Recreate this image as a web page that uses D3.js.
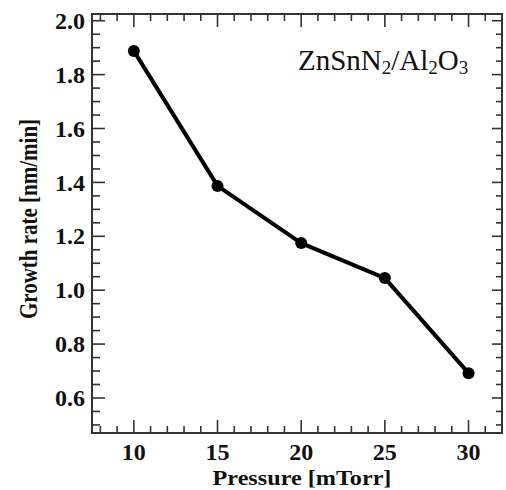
<!DOCTYPE html>
<html>
<head>
<meta charset="utf-8">
<script src="https://cdn.jsdelivr.net/npm/d3@7"></script>
<style>
  body { margin: 0; background: #fff; }
  svg { display: block; }
</style>
</head>
<body>
<svg id="chart" width="506" height="490"></svg>
<script>
var pressure = [10, 15, 20, 25, 30];
var growthRate = [1.888, 1.387, 1.175, 1.045, 0.692];
var xTicks = [10, 15, 20, 25, 30];
var yTicks = [0.6, 0.8, 1.0, 1.2, 1.4, 1.6, 1.8, 2.0];

var svg = d3.select('#chart'),
    margin = {top: 14, right: 4, bottom: 57, left: 92},
    width = +svg.attr('width') - margin.left - margin.right,
    height = +svg.attr('height') - margin.top - margin.bottom,
    g = svg.append('g').attr('transform', 'translate(' + margin.left + ',' + margin.top + ')');

var x = d3.scaleLinear().domain([7.5, 32]).range([0, width]);
var y = d3.scaleLinear().domain([0.47, 2.025]).range([height, 0]);

var axisColor = '#333';
var serif = '"Liberation Serif", "Times New Roman", serif';

var xMinor = d3.range(8, 33, 1).filter(function(d) { return d % 5 !== 0; });
var yMinor = d3.range(0.5, 2.01, 0.05).filter(function(d) {
    return Math.abs(Math.round(d * 5) - d * 5) > 0.01;
});

// inward ticks on all four sides
function drawTicks(sel, vals, len, orient) {
    sel.selectAll(null).data(vals).enter().append('line')
        .attr('stroke', axisColor)
        .attr('stroke-width', 1.6)
        .attr('x1', function(d) { return orient === 'b' || orient === 't' ? x(d) : (orient === 'l' ? 0 : width); })
        .attr('x2', function(d) { return orient === 'b' || orient === 't' ? x(d) : (orient === 'l' ? len : width - len); })
        .attr('y1', function(d) { return orient === 'l' || orient === 'r' ? y(d) : (orient === 'b' ? height : 0); })
        .attr('y2', function(d) { return orient === 'l' || orient === 'r' ? y(d) : (orient === 'b' ? height - len : len); });
}

var ticks = g.append('g');
drawTicks(ticks, xMinor, 7, 'b');
drawTicks(ticks, xMinor, 7, 't');
drawTicks(ticks, xTicks, 13, 'b');
drawTicks(ticks, xTicks, 13, 't');
drawTicks(ticks, yMinor, 8, 'l');
drawTicks(ticks, yMinor, 6, 'r');
drawTicks(ticks, yTicks, 13, 'l');
drawTicks(ticks, yTicks, 10, 'r');

g.append('rect')
    .attr('width', width)
    .attr('height', height)
    .attr('fill', 'none')
    .attr('stroke', axisColor)
    .attr('stroke-width', 2);

// tick labels
g.append('g')
    .attr('font-family', serif)
    .attr('font-weight', 'bold')
    .attr('font-size', 24)
    .attr('text-anchor', 'middle')
    .selectAll('text')
    .data(xTicks)
    .enter().append('text')
    .attr('x', function(d) { return x(d); })
    .attr('y', height + 27)
    .attr('fill', '#111')
    .text(function(d) { return d; });

g.append('g')
    .attr('font-family', serif)
    .attr('font-weight', 'bold')
    .attr('font-size', 24)
    .attr('text-anchor', 'end')
    .selectAll('text')
    .data(yTicks)
    .enter().append('text')
    .attr('x', -7)
    .attr('y', function(d) { return y(d); })
    .attr('dy', '0.34em')
    .attr('fill', '#111')
    .text(function(d) { return d.toFixed(1); });

// axis titles
svg.append('text')
    .attr('transform', 'translate(302,485) scale(1.1,1)')
    .attr('text-anchor', 'middle')
    .attr('font-family', serif)
    .attr('font-weight', 'bold')
    .attr('font-size', 22)
    .attr('fill', '#111')
    .text('Pressure [mTorr]');

svg.append('text')
    .attr('transform', 'translate(37,219) rotate(-90) scale(0.84,1)')
    .attr('text-anchor', 'middle')
    .attr('font-family', serif)
    .attr('font-weight', 'bold')
    .attr('font-size', 25)
    .attr('fill', '#111')
    .text('Growth rate [nm/min]');

// sample label
var label = svg.append('text')
    .attr('x', 298)
    .attr('y', 70)
    .attr('font-family', serif)
    .attr('font-size', 29)
    .attr('fill', '#111');
label.append('tspan').text('ZnSnN');
label.append('tspan').attr('font-size', 19).attr('dy', 4).text('2');
label.append('tspan').attr('dy', -4).text('/Al');
label.append('tspan').attr('font-size', 19).attr('dy', 4).text('2');
label.append('tspan').attr('dy', -4).text('O');
label.append('tspan').attr('font-size', 19).attr('dy', 4).text('3');

// data line and points
var line = d3.line()
    .x(function(d, i) { return x(pressure[i]); })
    .y(function(d) { return y(d); });

g.append('path')
    .datum(growthRate)
    .attr('fill', 'none')
    .attr('stroke', '#000')
    .attr('stroke-width', 4)
    .attr('stroke-linejoin', 'round')
    .attr('d', line);

g.selectAll('circle')
    .data(growthRate)
    .enter().append('circle')
    .attr('cx', function(d, i) { return x(pressure[i]); })
    .attr('cy', function(d) { return y(d); })
    .attr('r', 6)
    .attr('fill', '#000');
</script>
</body>
</html>
